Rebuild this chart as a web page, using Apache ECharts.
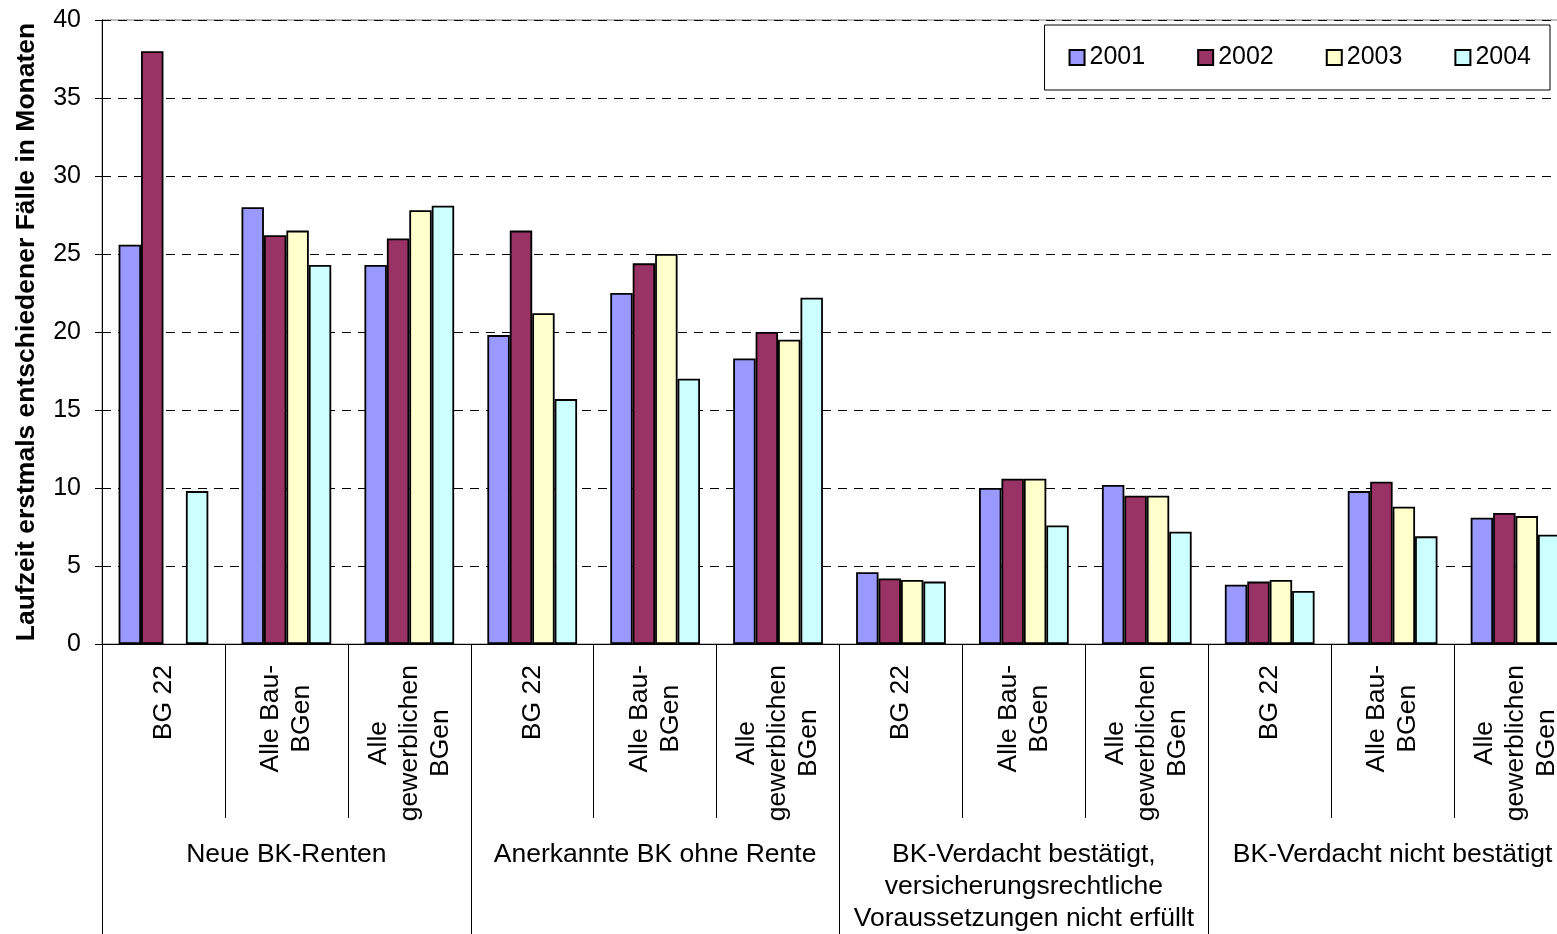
<!DOCTYPE html>
<html>
<head>
<meta charset="utf-8">
<script src="https://cdn.jsdelivr.net/npm/echarts@6/dist/echarts.min.js"></script>
<style>
html,body{margin:0;padding:0;background:#fff;overflow:hidden;width:1557px;height:934px;}
#chart{width:1577px;height:934px;}
</style>
</head>
<body>
<div id="chart"></div>
<script>
var categories = ['BG 22','Alle Bau-\nBGen','Alle\ngewerblichen\nBGen',
                  'BG 22','Alle Bau-\nBGen','Alle\ngewerblichen\nBGen',
                  'BG 22','Alle Bau-\nBGen','Alle\ngewerblichen\nBGen',
                  'BG 22','Alle Bau-\nBGen','Alle\ngewerblichen\nBGen'];
var groups = ['Neue BK-Renten','Anerkannte BK ohne Rente',
              'BK-Verdacht bestätigt,\nversicherungsrechtliche\nVoraussetzungen nicht erfüllt',
              'BK-Verdacht nicht bestätigt'];
var years = ['2001','2002','2003','2004'];
var v2001 = [25.6, 28.0, 24.3, 19.8, 22.5, 18.3, 4.6, 10.0, 10.2, 3.8, 9.8, 8.1];
var v2002 = [38.0, 26.2, 26.0, 26.5, 24.4, 20.0, 4.2, 10.6, 9.5, 4.0, 10.4, 8.4];
var v2003 = [null, 26.5, 27.8, 21.2, 25.0, 19.5, 4.1, 10.6, 9.5, 4.1, 8.8, 8.2];
var v2004 = [9.8, 24.3, 28.1, 15.7, 17.0, 22.2, 4.0, 7.6, 7.2, 3.4, 6.9, 7.0];
var yTicks = {min: 0, max: 40, interval: 5};
var colors = ['#9999FF','#993366','#FFFFCC','#CCFFFF'];

var font = 'Liberation Sans, Arial, sans-serif';
var FS = 26.5;
var chart = echarts.init(document.getElementById('chart'));
var dataSets = [v2001, v2002, v2003, v2004];
var series = years.map(function (y, i) {
  return {
    name: y,
    type: 'bar',
    data: dataSets[i],
    barGap: '0%',
    barCategoryGap: '27%',
    itemStyle: {color: colors[i], borderColor: '#000', borderWidth: 1.8},
    emphasis: {disabled: true}
  };
});
chart.setOption({
  animation: false,
  color: colors,
  grid: {left: 102, top: 20, right: 0, bottom: 290, containLabel: false, outerBoundsMode: 'none',
         show: true, borderColor: '#808080', borderWidth: 1, backgroundColor: 'transparent'},
  legend: {
    data: years,
    right: 27, top: 25,
    padding: [20, 19, 20, 24],
    itemGap: 52,
    itemWidth: 15, itemHeight: 15,
    icon: 'rect',
    borderColor: '#000', borderWidth: 1,
    backgroundColor: '#fff',
    textStyle: {fontSize: 25, fontFamily: font, color: '#000'}
  },
  xAxis: [{
    type: 'category',
    data: categories,
    position: 'bottom',
    axisLine: {lineStyle: {color: '#000', width: 1}},
    axisTick: {show: true, interval: 0, length: 174, lineStyle: {color: '#000', width: 1}},
    axisLabel: {
      interval: 0, rotate: 90, margin: 21,
      fontSize: FS, fontFamily: font, color: '#000', lineHeight: 31,
      formatter: function (v) {
        return v.split('\n').map(function (s) { return '{c|' + s + '}'; }).join('\n');
      },
      rich: {c: {align: 'center', fontSize: FS, fontFamily: font, color: '#000', lineHeight: 31}}
    }
  }, {
    type: 'category',
    data: groups,
    position: 'bottom',
    axisLine: {show: false},
    axisTick: {show: true, interval: 0, length: 290, lineStyle: {color: '#000', width: 1}},
    axisLabel: {interval: 0, margin: 195, fontSize: FS, fontFamily: font, color: '#000', lineHeight: 32, align: 'center'}
  }],
  yAxis: {
    type: 'value',
    min: yTicks.min, max: yTicks.max, interval: yTicks.interval,
    name: 'Laufzeit erstmals entschiedener Fälle in Monaten',
    nameLocation: 'middle',
    nameGap: 62,
    nameTextStyle: {fontSize: FS, fontWeight: 'bold', fontFamily: font, color: '#000'},
    axisLine: {show: true, lineStyle: {color: '#000', width: 1}},
    axisTick: {show: true, length: 7, lineStyle: {color: '#000'}},
    axisLabel: {fontSize: 25, fontFamily: font, color: '#000', margin: 21},
    splitLine: {show: true, lineStyle: {color: '#000', type: [9, 7], width: 1}}
  },
  series: series
});
</script>
</body>
</html>
